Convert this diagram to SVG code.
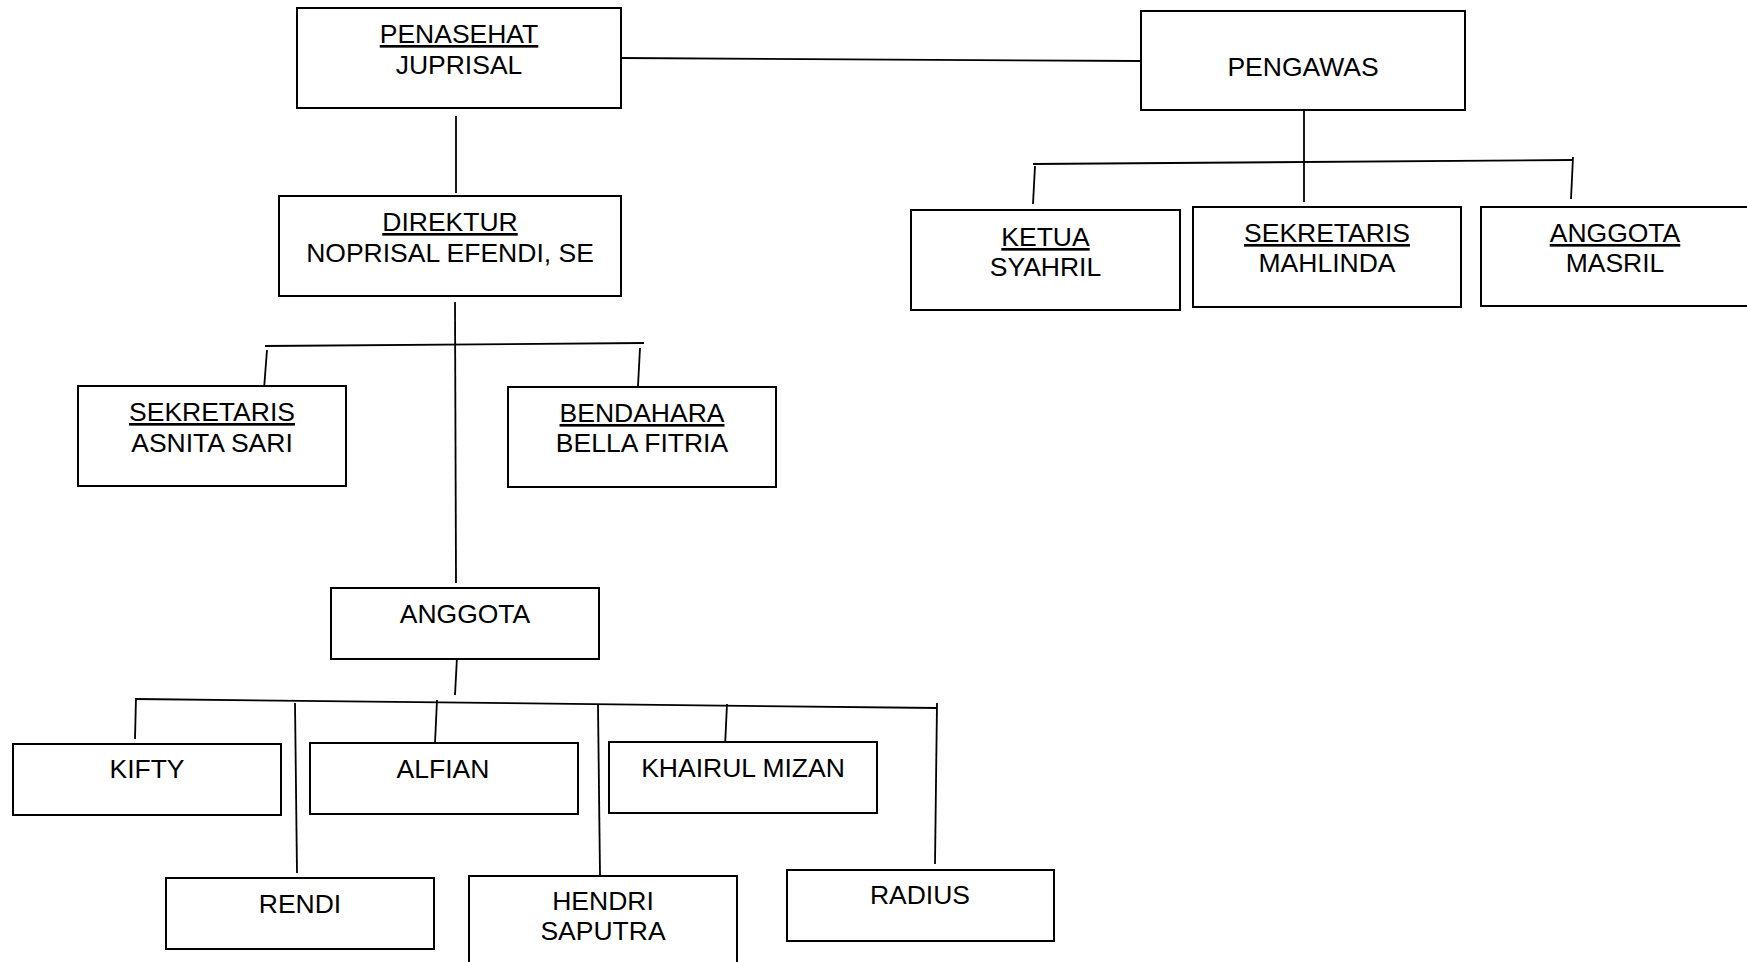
<svg xmlns="http://www.w3.org/2000/svg" width="1747" height="962" viewBox="0 0 1747 962">
<style>
.box{fill:#fff;stroke:#000;stroke-width:2}
.t{font-family:"Liberation Sans",Arial,sans-serif;font-size:26.5px;fill:#000;text-anchor:middle}
.u{text-decoration:underline}
.c line{stroke:#000;stroke-width:1.8}
</style>
<rect width="1747" height="962" fill="#fff"/>
<g class="c" id="connectors">
<line x1="621" y1="58" x2="1141" y2="61"/>
<line x1="456" y1="116" x2="456" y2="193"/>
<line x1="1304" y1="110" x2="1304" y2="202"/>
<line x1="1033" y1="164" x2="1573" y2="160"/>
<line x1="1035" y1="166" x2="1033" y2="204"/>
<line x1="1573" y1="157" x2="1571" y2="199"/>
<line x1="455" y1="302" x2="456" y2="583"/>
<line x1="265" y1="346" x2="644" y2="343"/>
<line x1="267" y1="350" x2="264" y2="389"/>
<line x1="640" y1="348" x2="638" y2="386"/>
<line x1="457" y1="657" x2="455" y2="695"/>
<line x1="136" y1="699" x2="937" y2="708"/>
<line x1="136" y1="698" x2="135" y2="739"/>
<line x1="937" y1="703" x2="935" y2="864"/>
<line x1="295" y1="703" x2="297" y2="873"/>
<line x1="437" y1="700" x2="435" y2="743"/>
<line x1="598" y1="705" x2="600" y2="875"/>
<line x1="727" y1="704" x2="725" y2="747"/>
</g>
<g id="penasehat"><rect class="box" x="297" y="8" width="324" height="100"/><text class="t u" x="459" y="43">PENASEHAT</text><text class="t" x="459" y="74">JUPRISAL</text></g>
<g id="pengawas"><rect class="box" x="1141" y="11" width="324" height="99"/><text class="t" x="1303" y="76">PENGAWAS</text></g>
<g id="ketua"><rect class="box" x="911" y="210" width="269" height="100"/><text class="t u" x="1045.5" y="246">KETUA</text><text class="t" x="1045.5" y="276">SYAHRIL</text></g>
<g id="sekretaris-pengawas"><rect class="box" x="1193" y="207" width="268" height="100"/><text class="t u" x="1327" y="242">SEKRETARIS</text><text class="t" x="1327" y="272">MAHLINDA</text></g>
<g id="anggota-pengawas"><rect class="box" x="1481" y="207" width="269" height="99"/><text class="t u" x="1615" y="242">ANGGOTA</text><text class="t" x="1615" y="272">MASRIL</text></g>
<g id="direktur"><rect class="box" x="279" y="196" width="342" height="100"/><text class="t u" x="450" y="231">DIREKTUR</text><text class="t" x="450" y="262">NOPRISAL EFENDI, SE</text></g>
<g id="sekretaris"><rect class="box" x="78" y="386" width="268" height="100"/><text class="t u" x="212" y="421">SEKRETARIS</text><text class="t" x="212" y="452">ASNITA SARI</text></g>
<g id="bendahara"><rect class="box" x="508" y="387" width="268" height="100"/><text class="t u" x="642" y="422">BENDAHARA</text><text class="t" x="642" y="452">BELLA FITRIA</text></g>
<g id="anggota"><rect class="box" x="331" y="588" width="268" height="71"/><text class="t" x="465" y="623">ANGGOTA</text></g>
<g id="kifty"><rect class="box" x="13" y="744" width="268" height="71"/><text class="t" x="147" y="778">KIFTY</text></g>
<g id="alfian"><rect class="box" x="310" y="743" width="268" height="71"/><text class="t" x="443" y="778">ALFIAN</text></g>
<g id="khairul"><rect class="box" x="609" y="742" width="268" height="71"/><text class="t" x="743" y="777">KHAIRUL MIZAN</text></g>
<g id="rendi"><rect class="box" x="166" y="878" width="268" height="71"/><text class="t" x="300" y="913">RENDI</text></g>
<g id="hendri"><rect class="box" x="469" y="876" width="268" height="100"/><text class="t" x="603" y="910">HENDRI</text><text class="t" x="603" y="940">SAPUTRA</text></g>
<g id="radius"><rect class="box" x="787" y="870" width="267" height="71"/><text class="t" x="920" y="904">RADIUS</text></g>
</svg>
